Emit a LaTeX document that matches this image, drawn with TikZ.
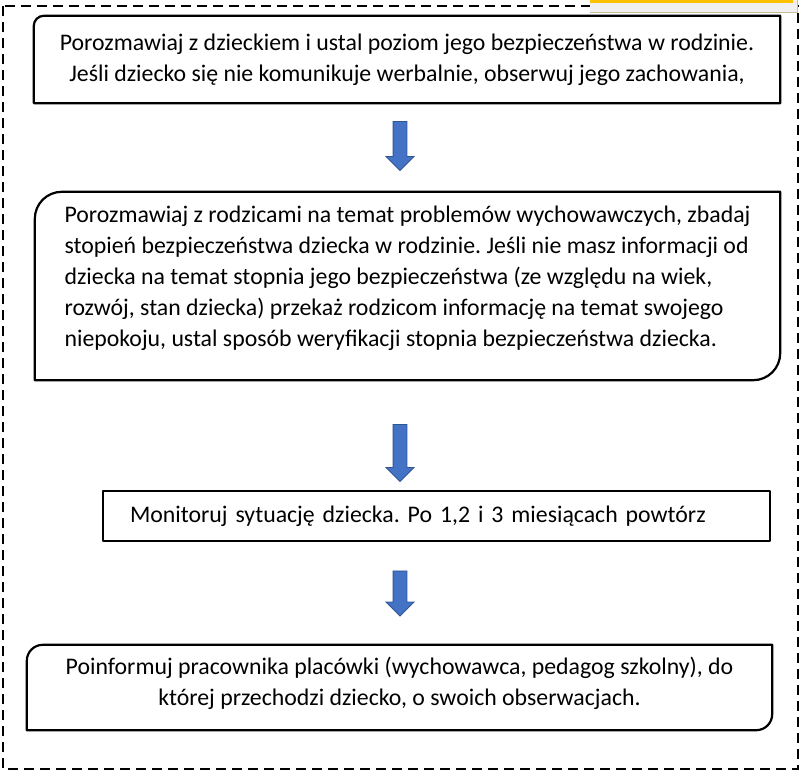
\documentclass[tikz,border=0pt]{standalone}
\usepackage{fontspec}
\setmainfont{Carlito}
\usetikzlibrary{shapes.arrows}
\definecolor{arrowblue}{HTML}{4472C4}
\definecolor{arrowedge}{HTML}{2F5597}
\definecolor{tabgold}{HTML}{FFC000}
\definecolor{tabgray}{HTML}{F0F0F0}
\definecolor{tabedge}{HTML}{C9BC96}
\frenchspacing
\tikzstyle{box}=[rectangle, inner sep=0pt, font=\fontsize{23.8}{31}\selectfont]
\tikzstyle{outline}=[draw, line width=2.2pt, line join=round]
\tikzstyle{downarrow}=[single arrow, shape border rotate=270, draw=arrowedge, fill=arrowblue, line width=0.8pt, inner sep=6.5pt, minimum width=27pt, single arrow head extend=7pt]
\tikzstyle{frame}=[draw, line width=1.3pt, dash pattern=on 10pt off 6pt]

\begin{document}
\begin{tikzpicture}[x=1pt, y=-1pt, node distance=80pt]
		\useasboundingbox (0,0) rectangle (803,776);
		
		\draw[frame] (3,6) rectangle (798,769);
		\fill[tabgray] (590,0) rectangle (797,13);
		\draw[tabedge, line width=1pt] (590,13) -- (797,13) -- (797,0);
		\fill[tabgold] (590,0) rectangle (793,3);
		
		\node (box1) [box, minimum width=746pt, minimum height=87pt, align=center] at (407,59.5) {Porozmawiaj z dzieckiem i ustal poziom jego bezpieczeństwa w rodzinie.\\ Jeśli dziecko się nie komunikuje werbalnie, obserwuj jego zachowania,};
		\node (arr1) [downarrow, minimum height=49pt, below of=box1, yshift=-3pt, xshift=-7pt] {};
		\node (box2) [box, minimum width=745pt, minimum height=188pt, align=left, below of=arr1, yshift=-63.5pt, xshift=7.5pt] {Porozmawiaj z rodzicami na temat problemów wychowawczych, zbadaj\\ stopień bezpieczeństwa dziecka w rodzinie. Jeśli nie masz informacji od\\ dziecka na temat stopnia jego bezpieczeństwa (ze względu na wiek,\\ rozwój, stan dziecka) przekaż rodzicom informację na temat swojego\\ niepokoju, ustal sposób weryfikacji stopnia bezpieczeństwa dziecka.\\[-11pt]\mbox{}};
		\node (arr2) [downarrow, minimum height=57pt, below of=box2, yshift=-83.5pt, xshift=-7.5pt] {};
		\node (box3) [box, outline, minimum width=667pt, minimum height=50pt, inner xsep=27pt, text width=613pt, align=left, below of=arr2, yshift=13.5pt, xshift=36.5pt] {Monitoruj sytuację dziecka. Po 1,2 i 3 miesiącach powtórz};
		\node (arr3) [downarrow, minimum height=45pt, below of=box3, yshift=6pt, xshift=-36.5pt] {};
		\node (box4) [box, minimum width=745pt, minimum height=85pt, align=center, below of=arr3, yshift=-17.5pt, xshift=-0.5pt] {Poinformuj pracownika placówki (wychowawca, pedagog szkolny), do\\ której przechodzi dziecko, o swoich obserwacjach.\\[-19pt]\mbox{}};
		
		% obramowania z zaokraglonymi rogami
		\draw[outline] (box1.south west) -- ([yshift=-10pt]box1.north west) arc[start angle=180, end angle=90, radius=10pt] -- (box1.north east) -- (box1.south east) -- cycle;
		\draw[outline] (box2.south west) -- ([yshift=-27pt]box2.north west) arc[start angle=180, end angle=90, radius=27pt] -- (box2.north east) -- ([yshift=27pt]box2.south east) arc[start angle=0, end angle=-90, radius=27pt] -- cycle;
		\draw[outline] (box4.south west) -- ([yshift=-16pt]box4.north west) arc[start angle=180, end angle=90, radius=16pt] -- (box4.north east) -- ([yshift=16pt]box4.south east) arc[start angle=0, end angle=-90, radius=16pt] -- cycle;
		
		\end{tikzpicture}
\end{document}
